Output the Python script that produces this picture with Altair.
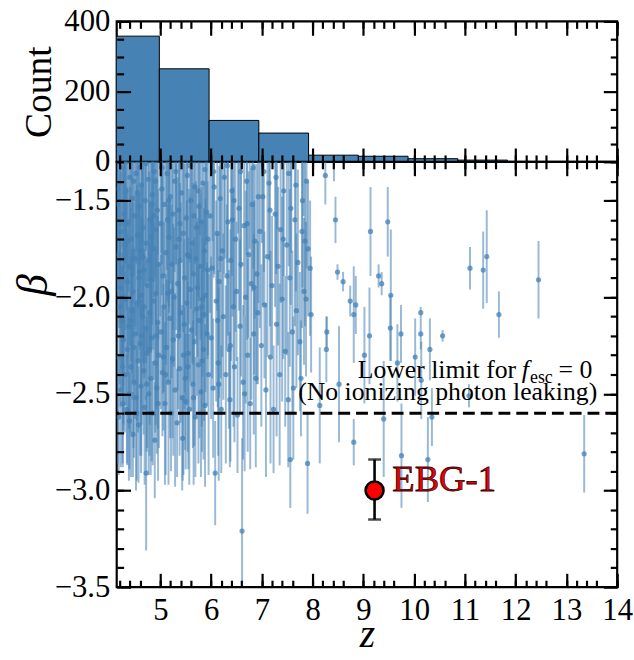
import altair as alt
import pandas as pd

FONT = "Liberation Serif"
BLUE = "#4682b4"

# ---------------- histogram of z (bin edges and counts) ----------------
hist_lo = [4.00, 4.98, 5.96, 6.94, 7.92, 8.90, 9.88, 10.86, 11.84, 12.82]
hist_hi = [4.98, 5.96, 6.94, 7.92, 8.90, 9.88, 10.86, 11.84, 12.82, 13.80]
hist_count = [358, 265, 118, 82, 19, 16, 9, 5, 1, 1]

# ---------------- galaxies: [z, beta, beta_err] ----------------
pts_z4 = [
    [4.15, -1.52, 0.45], [4.16, -2.31, 0.55], [4.17, -1.20, 0.50], [4.18, -1.78, 0.38], [4.18, -2.62, 0.30],
    [4.19, -1.41, 0.52], [4.20, -2.05, 0.40], [4.21, -1.95, 0.62], [4.22, -2.48, 0.40], [4.22, -1.66, 0.50],
    [4.24, -2.12, 0.35], [4.24, -1.85, 0.50], [4.25, -1.33, 0.42], [4.26, -2.55, 0.33], [4.27, -1.88, 0.58],
    [4.27, -2.22, 0.47], [4.28, -1.25, 0.60], [4.29, -1.57, 0.66], [4.30, -2.40, 0.30], [4.31, -1.73, 0.44],
    [4.32, -2.01, 0.55], [4.32, -1.45, 0.38], [4.33, -1.62, 0.45], [4.34, -2.58, 0.28], [4.35, -1.92, 0.49],
    [4.35, -2.27, 0.60], [4.37, -1.61, 0.36], [4.38, -2.15, 0.53], [4.38, -2.50, 0.45], [4.39, -2.64, 0.25],
    [4.40, -1.38, 0.48], [4.40, -1.84, 0.41], [4.41, -1.15, 0.45], [4.42, -2.36, 0.57], [4.43, -1.70, 0.63],
    [4.44, -2.07, 0.32], [4.45, -1.49, 0.54], [4.46, -2.71, 0.22], [4.46, -1.97, 0.46], [4.47, -2.26, 0.52],
    [4.48, -2.44, 0.39], [4.49, -1.58, 0.59], [4.50, -2.19, 0.44], [4.51, -1.80, 0.35], [4.52, -2.52, 0.48],
    [4.52, -1.36, 0.40], [4.53, -1.28, 0.55], [4.54, -2.03, 0.61], [4.55, -1.68, 0.52], [4.56, -2.33, 0.37],
    [4.56, -1.46, 0.60], [4.57, -2.66, 0.30], [4.58, -1.90, 0.43], [4.58, -1.53, 0.50], [4.59, -1.87, 0.40],
    [4.60, -2.24, 0.58], [4.61, -1.76, 0.34], [4.62, -2.46, 0.45], [4.63, -1.99, 0.67], [4.63, -1.42, 0.39],
    [4.64, -1.22, 0.50], [4.65, -2.10, 0.51], [4.66, -1.64, 0.47], [4.67, -2.38, 0.33], [4.68, -1.86, 0.56],
    [4.68, -2.05, 0.30], [4.69, -2.57, 0.40], [4.70, -1.50, 0.44], [4.71, -2.16, 0.37], [4.72, -2.91, 0.40],
    [4.72, -1.72, 0.62], [4.73, -2.45, 0.35], [4.74, -2.29, 0.49], [4.75, -1.94, 0.35], [4.76, -1.39, 0.53],
    [4.77, -2.50, 0.42], [4.77, -1.18, 0.62], [4.78, -1.81, 0.46], [4.79, -2.08, 0.58], [4.80, -1.60, 0.31],
    [4.81, -2.42, 0.50], [4.82, -1.91, 0.38], [4.82, -1.69, 0.58], [4.83, -2.21, 0.64], [4.84, -1.47, 0.45],
    [4.85, -2.60, 0.27], [4.85, -1.26, 0.48], [4.86, -1.75, 0.52], [4.87, -2.02, 0.41], [4.87, -1.58, 0.42],
    [4.88, -1.35, 0.57], [4.89, -2.74, 0.30], [4.90, -2.34, 0.36], [4.91, -1.65, 0.49], [4.91, -2.20, 0.46],
    [4.92, -1.98, 0.60], [4.93, -2.47, 0.34], [4.94, -1.55, 0.43], [4.95, -2.13, 0.55], [4.95, -1.21, 0.57],
    [4.96, -1.83, 0.39], [4.97, -2.30, 0.48],
    [4.155, -1.44, 0.55], [4.205, -1.62, 0.48], [4.255, -2.36, 0.50], [4.305, -1.30, 0.52], [4.355, -1.71, 0.60],
    [4.415, -2.12, 0.58], [4.475, -1.40, 0.47], [4.535, -2.60, 0.35], [4.595, -1.33, 0.50], [4.655, -1.79, 0.55],
    [4.715, -1.31, 0.45], [4.785, -2.27, 0.55], [4.835, -1.52, 0.62], [4.905, -1.40, 0.50], [4.955, -2.55, 0.40],
    [4.445, -1.88, 0.65], [4.625, -2.20, 0.62], [4.275, -2.00, 0.66],
]
pts_z5 = [
    [5.00, -1.62, 0.48], [5.01, -2.18, 0.40], [5.02, -1.22, 0.55], [5.03, -1.44, 0.55], [5.04, -2.39, 0.33],
    [5.05, -1.89, 0.61], [5.06, -2.31, 0.38], [5.07, -2.05, 0.44], [5.08, -1.52, 0.37], [5.09, -2.55, 0.42],
    [5.11, -1.77, 0.58], [5.12, -2.26, 0.35], [5.13, -1.36, 0.50], [5.14, -1.60, 0.42], [5.15, -1.98, 0.46],
    [5.16, -2.44, 0.53], [5.17, -1.69, 0.39], [5.18, -1.18, 0.50], [5.19, -2.11, 0.62], [5.20, -1.48, 0.45],
    [5.21, -2.60, 0.30], [5.22, -1.97, 0.45], [5.23, -1.83, 0.52], [5.24, -2.32, 0.41], [5.25, -1.57, 0.60],
    [5.27, -2.00, 0.36], [5.28, -1.40, 0.47], [5.29, -2.48, 0.50], [5.31, -1.74, 0.43], [5.32, -1.25, 0.58],
    [5.33, -2.65, 0.28], [5.34, -1.93, 0.55], [5.35, -2.20, 0.38], [5.36, -1.55, 0.63], [5.37, -1.70, 0.52],
    [5.38, -2.37, 0.45], [5.39, -1.81, 0.40], [5.40, -2.08, 0.57], [5.42, -1.46, 0.34], [5.43, -2.52, 0.48],
    [5.44, -2.73, 0.22], [5.45, -1.67, 0.51], [5.46, -1.20, 0.47], [5.47, -2.14, 0.44], [5.48, -1.90, 0.59],
    [5.49, -2.42, 0.37], [5.50, -2.54, 0.35], [5.51, -1.59, 0.46], [5.52, -2.03, 0.53], [5.53, -1.37, 0.41],
    [5.54, -2.36, 0.44], [5.55, -2.29, 0.60], [5.56, -1.79, 0.35], [5.57, -2.58, 0.39], [5.59, -1.96, 0.48],
    [5.60, -1.50, 0.56], [5.61, -2.17, 0.42], [5.62, -1.27, 0.60], [5.63, -1.72, 0.62], [5.64, -2.45, 0.33],
    [5.65, -1.88, 0.47], [5.66, -1.58, 0.50], [5.67, -2.23, 0.54], [5.68, -1.43, 0.40], [5.69, -2.62, 0.31],
    [5.70, -1.80, 0.40], [5.71, -1.64, 0.58], [5.72, -2.06, 0.45], [5.73, -1.95, 0.36], [5.75, -2.35, 0.51],
    [5.76, -1.53, 0.49], [5.77, -2.12, 0.61], [5.78, -1.16, 0.52], [5.79, -1.84, 0.38], [5.80, -2.49, 0.44],
    [5.81, -1.61, 0.53], [5.82, -2.33, 0.47], [5.83, -2.01, 0.40], [5.84, -1.41, 0.46], [5.85, -2.27, 0.57],
    [5.86, -2.09, 0.55], [5.87, -1.76, 0.35], [5.88, -2.56, 0.42], [5.89, -1.99, 0.50], [5.90, -1.24, 0.49],
    [5.91, -1.56, 0.64], [5.92, -2.19, 0.37], [5.93, -1.86, 0.46], [5.95, -2.40, 0.52],
    [5.035, -1.33, 0.50], [5.105, -2.40, 0.52], [5.165, -1.50, 0.55], [5.255, -2.22, 0.60], [5.305, -1.35, 0.48],
    [5.385, -1.62, 0.55], [5.455, -2.30, 0.62], [5.535, -1.78, 0.64], [5.585, -1.32, 0.50], [5.655, -2.52, 0.45],
    [5.745, -1.45, 0.55], [5.815, -2.05, 0.62], [5.875, -1.34, 0.52], [5.935, -1.70, 0.60],
]
pts_z6 = [
    [5.98, -1.58, 0.50], [6.00, -2.21, 0.42], [6.02, -1.85, 0.57], [6.03, -1.21, 0.50], [6.04, -2.47, 0.36],
    [6.06, -1.43, 0.45], [6.08, -2.91, 0.27], [6.10, -2.02, 0.52], [6.12, -1.67, 0.40], [6.13, -2.12, 0.45],
    [6.14, -2.34, 0.48], [6.16, -1.92, 0.60], [6.18, -1.49, 0.38], [6.20, -2.58, 0.33], [6.22, -1.76, 0.55],
    [6.24, -2.10, 0.43], [6.26, -1.38, 0.50], [6.27, -1.25, 0.55], [6.29, -2.40, 0.46], [6.31, -1.89, 0.37],
    [6.33, -1.61, 0.59], [6.35, -2.27, 0.41], [6.37, -2.53, 0.35], [6.39, -1.81, 0.52], [6.41, -1.45, 0.44],
    [6.42, -1.60, 0.50], [6.44, -2.05, 0.62], [6.46, -2.36, 0.39], [6.48, -1.70, 0.48], [6.50, -1.97, 0.36],
    [6.52, -2.61, 0.30], [6.53, -1.19, 0.48], [6.55, -1.54, 0.53], [6.57, -2.15, 0.45], [6.59, -1.83, 0.58],
    [6.61, -3.21, 0.48], [6.63, -2.44, 0.40], [6.65, -1.63, 0.47], [6.66, -2.50, 0.40], [6.68, -2.00, 0.55],
    [6.70, -1.40, 0.38], [6.72, -2.30, 0.50], [6.74, -1.78, 0.43], [6.76, -1.23, 0.52], [6.77, -2.55, 0.34],
    [6.79, -1.93, 0.60], [6.81, -1.52, 0.45], [6.84, -2.19, 0.52], [6.85, -1.95, 0.45], [6.86, -1.71, 0.40],
    [6.88, -2.42, 0.46], [6.90, -1.88, 0.57], [6.92, -2.08, 0.37],
    [6.05, -1.35, 0.55], [6.19, -1.80, 0.62], [6.32, -1.32, 0.50], [6.45, -1.50, 0.55], [6.58, -1.35, 0.50],
    [6.71, -1.62, 0.60], [6.83, -1.33, 0.52], [6.93, -1.48, 0.55], [6.38, -2.25, 0.60], [6.15, -2.45, 0.50],
]
pts_z7 = [
    [6.96, -1.66, 0.50], [6.99, -2.25, 0.42], [7.00, -1.22, 0.50], [7.02, -1.48, 0.56], [7.05, -2.04, 0.38],
    [7.08, -2.48, 0.45], [7.11, -1.79, 0.52], [7.14, -1.41, 0.40], [7.17, -2.31, 0.55], [7.20, -1.94, 0.36],
    [7.23, -2.58, 0.33], [7.26, -1.57, 0.48], [7.29, -2.14, 0.58], [7.30, -1.20, 0.45], [7.32, -1.84, 0.41],
    [7.35, -2.40, 0.47], [7.37, -1.65, 0.38], [7.40, -2.01, 0.53], [7.43, -1.45, 0.44], [7.46, -2.28, 0.39],
    [7.49, -1.73, 0.57], [7.52, -2.53, 0.35], [7.55, -1.90, 0.46], [7.56, -2.84, 0.25], [7.57, -1.54, 0.50],
    [7.58, -1.25, 0.52], [7.60, -2.18, 0.42], [7.62, -2.47, 0.37], [7.65, -1.60, 0.55], [7.68, -2.07, 0.40],
    [7.71, -1.82, 0.48], [7.75, -2.23, 0.36], [7.77, -2.42, 0.30], [7.80, -1.50, 0.45], [7.82, -1.18, 0.40],
    [7.83, -1.97, 0.38], [7.85, -1.71, 0.44], [7.87, -2.01, 0.40], [7.90, -2.86, 0.26], [7.91, -1.75, 0.35],
    [7.04, -1.35, 0.52], [7.16, -1.55, 0.60], [7.28, -1.38, 0.50], [7.42, -1.70, 0.62], [7.53, -1.36, 0.48],
    [7.67, -1.42, 0.55], [7.79, -1.66, 0.50], [7.88, -1.40, 0.45],
]
pts_sparse = [
    [7.95, -1.85, 0.35], [7.97, -2.09, 0.30], [8.14, -2.56, 0.30], [8.25, -1.37, 0.15], [8.27, -2.27, 0.17],
    [8.28, -2.18, 0.08], [8.42, -1.25, 0.15], [8.45, -1.60, 0.12], [8.49, -1.87, 0.04], [8.52, -2.45, 0.30],
    [8.60, -1.92, 0.05], [8.74, -2.02, 0.08], [8.81, -2.09, 0.25], [8.81, -2.75, 0.12], [8.85, -2.04, 0.15],
    [9.02, -2.30, 0.25], [9.12, -2.20, 0.25], [9.14, -1.66, 0.23], [9.30, -1.89, 0.06], [9.36, -1.93, 0.06],
    [9.40, -2.63, 0.30], [9.48, -1.61, 0.18], [9.53, -2.16, 0.17], [9.54, -1.99, 0.34], [9.67, -2.34, 0.20],
    [9.74, -2.19, 0.15], [9.75, -2.82, 0.27], [10.02, -2.31, 0.20], [10.13, -2.08, 0.03], [10.13, -2.19, 0.08],
    [10.14, -2.43, 0.20], [10.27, -2.84, 0.22], [10.31, -2.27, 0.16], [10.35, -2.62, 0.15], [10.56, -2.20, 0.03],
    [11.08, -2.51, 0.06], [11.10, -1.85, 0.11], [11.36, -1.86, 0.20], [11.43, -1.79, 0.24], [11.67, -2.09, 0.12],
    [12.45, -1.91, 0.20], [13.35, -2.81, 0.20],
]

# ---------------- EBG-1 ----------------
ebg_z = [9.22]
ebg_beta = [-3.00]
ebg_lo = [-3.15]
ebg_hi = [-2.84]

# lower limit for f_esc = 0
fesc0_beta = [-2.6]

# ---------------- tables ----------------
hist_df = pd.DataFrame({"lo": hist_lo, "hi": hist_hi, "count": hist_count})
rows = pts_z4 + pts_z5 + pts_z6 + pts_z7 + pts_sparse
pts_df = pd.DataFrame(rows, columns=["z", "beta", "err"])
pts_df["lo"] = pts_df["beta"] - pts_df["err"]
pts_df["hi"] = pts_df["beta"] + pts_df["err"]
ebg_df = pd.DataFrame({"z": ebg_z, "beta": ebg_beta, "lo": ebg_lo, "hi": ebg_hi})
cap_df = pd.DataFrame({"z": ebg_z * 2, "b": ebg_lo + ebg_hi})
line_df = pd.DataFrame({"b": fesc0_beta})
one_df = pd.DataFrame({"a": [0]})

# ---------------- scales / axes ----------------
X_DOM = [4.14, 14.0]
xs = alt.Scale(domain=X_DOM, nice=False, zero=False)
ys = alt.Scale(domain=[-3.5, -1.3], nice=False, zero=False)
hys = alt.Scale(domain=[0, 400], nice=False, zero=False)

X_MAJOR = list(range(5, 15))
X_MINOR = [round(4.2 + 0.2 * i, 1) for i in range(50) if (i + 1) % 5 != 4]
Y_MAJOR = [-3.5, -3.0, -2.5, -2.0, -1.5]
Y_MINOR = [round(-3.4 + 0.1 * i, 1) for i in range(22)]
H_MAJOR = [0, 200, 400]
H_MINOR = [50, 100, 150, 250, 300, 350]

MAJ, MIN = 14, 7


def ax(orient, values, size, labels=False, **kw):
    d = dict(orient=orient, values=values, tickSize={"expr": str(-size)},
             ticks=True, labels=labels, domain=False, grid=False, zindex=1,
             tickColor="black", tickWidth=2.2)
    if "title" not in kw:
        d["title"] = None
    d.update(kw)
    return alt.Axis(**d)


# ---------------- top panel: histogram ----------------
hb = alt.Chart(hist_df)
h1 = hb.mark_rect(clip=True, color=BLUE, stroke="black", strokeWidth=1).encode(
    x=alt.X("lo:Q", scale=xs, axis=ax("bottom", X_MAJOR, MAJ)),
    x2="hi:Q",
    y=alt.Y("count:Q", scale=hys,
            axis=ax("left", H_MAJOR, MAJ, labels=True, labelPadding=MAJ + 7, format="d",
                    title="Count", titleX=-78, titleY=71, titleAngle=270,
                    titleBaseline="middle", titleAlign="center")),
    y2=alt.datum(0),
)
h2 = hb.mark_rect(clip=True, opacity=0).encode(
    x=alt.X("lo:Q", scale=xs, axis=ax("bottom", X_MINOR, MIN)), x2="hi:Q",
    y=alt.Y("count:Q", scale=hys, axis=ax("left", H_MINOR, MIN)), y2=alt.datum(0))
h3 = hb.mark_rect(clip=True, opacity=0).encode(
    x=alt.X("lo:Q", scale=xs, axis=ax("top", X_MAJOR, MAJ)), x2="hi:Q",
    y=alt.Y("count:Q", scale=hys, axis=ax("right", H_MAJOR, MAJ)), y2=alt.datum(0))
h4 = hb.mark_rect(clip=True, opacity=0).encode(
    x=alt.X("lo:Q", scale=xs, axis=ax("top", X_MINOR, MIN)), x2="hi:Q",
    y=alt.Y("count:Q", scale=hys, axis=ax("right", H_MINOR, MIN)), y2=alt.datum(0))

top = alt.layer(h1, h2, h3, h4).resolve_axis(x="independent", y="independent").properties(
    width=506, height=142)

# ---------------- bottom panel: beta vs z ----------------
pb = alt.Chart(pts_df)
err = pb.mark_rule(clip=True, color=BLUE, opacity=0.55, strokeWidth=2.0).encode(
    x=alt.X("z:Q", scale=xs,
            axis=ax("bottom", X_MAJOR, MAJ, labels=True, labelPadding=MAJ + 9, format="d",
                    title="z", titleFontStyle="italic", titleFontSize=40, titleX=253, titleY=60,
                    titleBaseline="alphabetic", titleAlign="center")),
    y=alt.Y("lo:Q", scale=ys,
            axis=ax("left", Y_MAJOR, MAJ, labels=True, labelPadding=MAJ + 7, format=".1f",
                    title="β", titleFontStyle="italic", titleFontSize=44, titleX=-84, titleY=124,
                    titleAngle=270, titleBaseline="middle", titleAlign="center")),
    y2="hi:Q",
)
dots = pb.mark_circle(clip=True, color=BLUE, opacity=0.75, size=28).encode(
    x=alt.X("z:Q", scale=xs, axis=ax("bottom", X_MINOR, MIN)),
    y=alt.Y("beta:Q", scale=ys, axis=ax("left", Y_MINOR, MIN)),
)
dashed = alt.Chart(line_df).mark_rule(color="black", strokeWidth=3, strokeDash=[12, 6]).encode(
    y=alt.Y("b:Q", scale=ys, axis=ax("right", Y_MAJOR, MAJ)),
)
ebg_err = alt.Chart(ebg_df).mark_rule(color="black", strokeWidth=2.6).encode(
    x=alt.X("z:Q", scale=xs, axis=ax("top", X_MAJOR, MAJ)),
    y=alt.Y("lo:Q", scale=ys, axis=ax("right", Y_MINOR, MIN)),
    y2="hi:Q",
)
ebg_cap = alt.Chart(cap_df).mark_tick(color="black", orient="horizontal", size=13, thickness=2.6).encode(
    x=alt.X("z:Q", scale=xs, axis=ax("top", X_MINOR, MIN)),
    y=alt.Y("b:Q", scale=ys, axis=None),
)
ebg_pt = alt.Chart(ebg_df).mark_circle(color="red", opacity=1, size=330, stroke="black", strokeWidth=2.6).encode(
    x=alt.X("z:Q", scale=xs, axis=None),
    y=alt.Y("beta:Q", scale=ys, axis=None),
)
ebg_txt = alt.Chart(ebg_df).mark_text(
    text="EBG-1", align="left", baseline="alphabetic", dx=18, font=FONT, fontSize=37,
    fill="#ee0000", stroke="#300000", strokeWidth=0.8,
).encode(x=alt.X("z:Q", scale=xs, axis=None), y=alt.Y("beta:Q", scale=ys, axis=None))


def note(text, dx, dy, size=26, align="right", style="normal"):
    return alt.Chart(one_df).mark_text(
        text=text, align=align, baseline="alphabetic", dx=dx, dy=dy, font=FONT,
        fontSize=size, fontStyle=style, color="black",
    ).encode(x=alt.X(datum=13.51, scale=xs, axis=None), y=alt.Y(datum=-2.6, scale=ys, axis=None))


n1 = note("Lower limit for", -77, -36)
n2 = note("f", -64, -36, style="italic")
n3 = note("esc", -40, -31, size=18)
n4 = note("= 0", 0, -36)
n5 = note("(No ionizing photon leaking)", 5, -13)

bottom = alt.layer(err, dots, dashed, ebg_err, ebg_cap, ebg_pt, ebg_txt, n1, n2, n3, n4, n5).resolve_axis(
    x="independent", y="independent").properties(width=506, height=430)

chart = alt.vconcat(top, bottom, spacing=0, bounds="flush").properties(
    padding={"left": 10, "top": 0, "right": 0, "bottom": 0},
    background="white",
).configure_view(stroke="black", strokeWidth=2.2).configure_axis(
    labelFont=FONT, labelFontSize=31, labelColor="black", labelFlush=False, labelOverlap=False,
    titleFont=FONT, titleFontSize=38, titleColor="black", titleFontWeight="normal",
)

chart.save("out.html", embed_options={"renderer": "svg", "actions": False})
